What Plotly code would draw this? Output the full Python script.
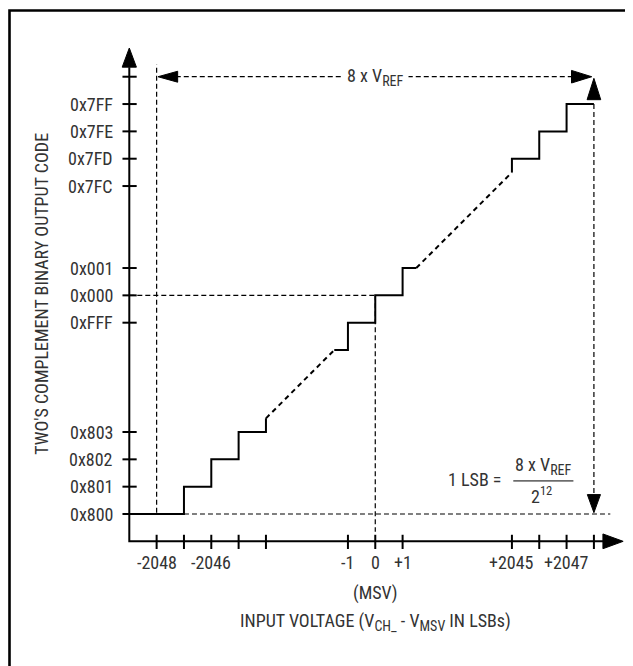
import plotly.graph_objects as go

# y axis: output codes at their positions (one unit per LSB step, with gaps)
y_tick_pos = [0, 1, 2, 3, 7, 8, 9, 12, 13, 14, 15, 16]
y_tick_text = ["0x800", "0x801", "0x802", "0x803", "0xFFF", "0x000", "0x001",
               "0x7FC", "0x7FD", "0x7FE", "0x7FF", ""]

# x axis: input voltage in LSBs
x_tick_pos = [1, 2, 3, 4, 5, 8, 9, 10, 14, 15, 16, 17]
x_tick_text = ["-2048", "", "-2046", "", "", "-1", "0", "+1",
               "+2045", "", "+2047", ""]

# staircase pieces (solid) and the gaps between them (dashed)
stair_low_x = [0, 2, 2, 3, 3, 4, 4, 5, 5]
stair_low_y = [0, 0, 1, 1, 2, 2, 3, 3, 3.5]
stair_mid_x = [7.5, 8, 8, 9, 9, 10, 10, 10.5]
stair_mid_y = [6, 6, 7, 7, 8, 8, 9, 9]
stair_top_x = [14, 14, 15, 15, 16, 16, 17]
stair_top_y = [12.5, 13, 13, 14, 14, 15, 15]
gap1_x, gap1_y = [5, 7.5], [3.5, 6]
gap2_x, gap2_y = [10.5, 14], [9, 12.5]

X_MIN, X_END = 0, 18.07       # x axis from origin to arrow tip
Y_MIN, Y_END = -1, 17.05      # y axis from origin to arrow tip

FONT = "Roboto Condensed, DejaVu Sans Condensed, sans-serif"
TXT = "#333333"
PX = 27.33      # pixels per unit
OX, OY = 121.3, 506.0   # origin in figure pixels (page body adds 8px)

fig = go.Figure()


def line(xs, ys, width=2, dash=None):
    fig.add_trace(go.Scatter(x=xs, y=ys, mode="lines", hoverinfo="skip",
                             line=dict(color="black", width=width, dash=dash)))


def arrow(tip_x, tip_y, direction, length=0.72, half=0.25):
    if direction == "up":
        xs = [tip_x, tip_x - half, tip_x + half, tip_x]
        ys = [tip_y, tip_y - length, tip_y - length, tip_y]
    elif direction == "down":
        xs = [tip_x, tip_x - half, tip_x + half, tip_x]
        ys = [tip_y, tip_y + length, tip_y + length, tip_y]
    elif direction == "right":
        xs = [tip_x, tip_x - length, tip_x - length, tip_x]
        ys = [tip_y, tip_y - half, tip_y + half, tip_y]
    else:
        xs = [tip_x, tip_x + length, tip_x + length, tip_x]
        ys = [tip_y, tip_y - half, tip_y + half, tip_y]
    fig.add_trace(go.Scatter(x=xs, y=ys, mode="lines", fill="toself",
                             fillcolor="black", hoverinfo="skip",
                             line=dict(color="black", width=1)))


def sub(s):
    return "<sub><span style='font-size:14px'>" + s + "</span></sub>"


# axes
line([X_MIN, X_MIN, X_END - 0.7], [Y_END - 0.7, Y_MIN, Y_MIN], width=2)
arrow(X_MIN, Y_END, "up", length=0.7, half=0.26)
arrow(X_END, Y_MIN, "right", length=0.74, half=0.27)

# tick marks crossing the axes
tx, ty = [], []
for v in y_tick_pos:
    tx += [X_MIN - 0.25, X_MIN + 0.27, None]
    ty += [v, v, None]
for u in x_tick_pos:
    tx += [u, u, None]
    ty += [Y_MIN + 0.24, Y_MIN - 0.28, None]
line(tx, ty, width=2)

# reference dashed lines
DASH = "5px,3px"
line([1, 1], [0.05, 16.45], width=1.2, dash=DASH)
line([1.7, 16.25], [16, 16], width=1.2, dash=DASH)
line([X_MIN, 9], [8, 8], width=1.2, dash=DASH)
line([9, 9], [8, Y_MIN + 0.35], width=1.2, dash=DASH)
line([2, 17.6], [0, 0], width=1.2, dash=DASH)
line([17, 17], [15, 0.7], width=1.2, dash=DASH)
arrow(1.05, 16, "left", length=0.72, half=0.2)
arrow(16.92, 16, "right", length=0.74, half=0.23)
arrow(17, 15.94, "up", length=0.78, half=0.25)
arrow(17, 0.05, "down", length=0.66, half=0.24)

# transfer function
line(stair_low_x, stair_low_y, width=2)
line(stair_mid_x, stair_mid_y, width=2)
line(stair_top_x, stair_top_y, width=2)
line(gap1_x, gap1_y, width=2, dash="5px,4px")
line(gap2_x, gap2_y, width=2, dash="5px,4px")

# fraction bar for 1 LSB
line([14.05, 16.25], [1.21, 1.21], width=1)

ann = []
for v, t in zip(y_tick_pos, y_tick_text):
    if t:
        ann.append(dict(x=X_MIN - 0.52, y=v, text=t, xanchor="right",
                        yanchor="middle", showarrow=False))
for u, t in zip(x_tick_pos, x_tick_text):
    if t:
        ann.append(dict(x=u, y=-1.78, text=t, xanchor="center",
                        yanchor="middle", showarrow=False))

ann += [
    dict(x=9, y=-2.9, text="(MSV)", showarrow=False),
    dict(x=9, y=-3.95,
         text="INPUT VOLTAGE (V" + sub("CH_") + " - V" + sub("MSV") + " IN LSBs)",
         showarrow=False),
    dict(x=-3.22, y=8.07, text="TWO'S COMPLEMENT BINARY OUTPUT CODE",
         textangle=-90, showarrow=False),
    dict(x=9, y=16, text="8 x V" + sub("REF"), showarrow=False,
         bgcolor="white", borderpad=4),
    dict(x=13.72, y=1.27, text="1 LSB =", xanchor="right", showarrow=False),
    dict(x=15.14, y=1.75, text="8 x V" + sub("REF"), showarrow=False),
    dict(x=15.1, y=0.68, text="2<sup>12</sup>", showarrow=False),
]

fig.update_layout(
    width=633, height=666,
    margin=dict(l=0, r=0, t=0, b=0),
    paper_bgcolor="white", plot_bgcolor="white",
    showlegend=False,
    font=dict(family=FONT, size=18, color=TXT),
    annotations=ann,
    xaxis=dict(range=[-OX / PX, (633 - OX) / PX], visible=False,
               fixedrange=True),
    yaxis=dict(range=[(OY - 666) / PX, OY / PX], visible=False,
               fixedrange=True),
    shapes=[dict(type="rect", xref="paper", yref="paper",
                 x0=1.5 / 633, x1=1.02, y0=-0.02, y1=1 - 2.5 / 666,
                 line=dict(color="black", width=2.6))],
)

fig.write_html("out.html")
